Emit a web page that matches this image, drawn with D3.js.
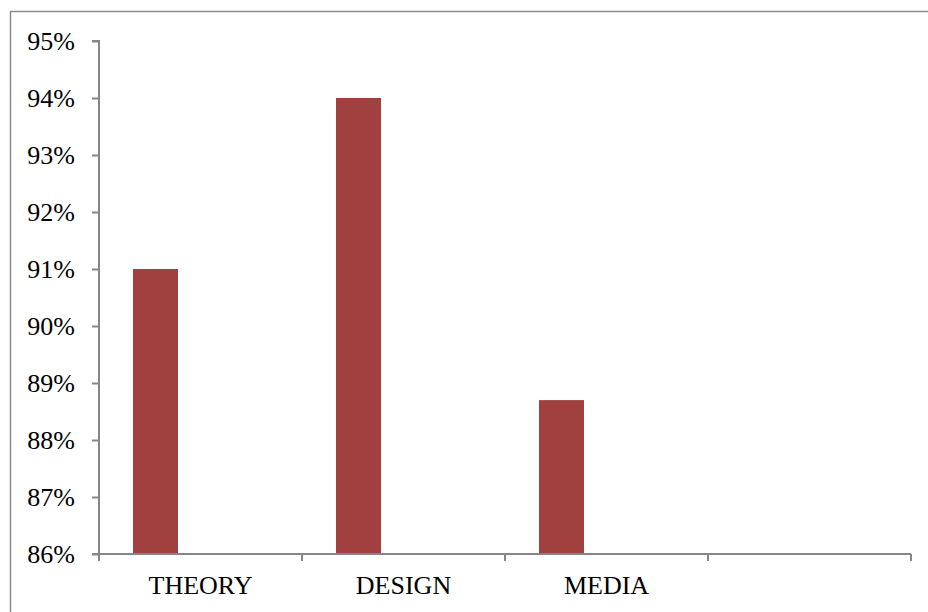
<!DOCTYPE html>
<html>
<head>
<meta charset="utf-8">
<script src="https://cdn.jsdelivr.net/npm/d3@7"></script>
<style>
  body { margin: 0; background: #fff; }
  svg { display: block; }
</style>
</head>
<body>
<svg id="chart"></svg>
<script>
// chart values
var categories = ['THEORY', 'DESIGN', 'MEDIA', ''];
var seriesNames = ['s1', 's2', 's3']; // only the first series carries values
var values = [0.91, 0.94, 0.887, null];
var yTicks = [0.86, 0.87, 0.88, 0.89, 0.90, 0.91, 0.92, 0.93, 0.94, 0.95];

var width = 928;
var height = 612;
var margin = { top: 41, right: 17, bottom: 58, left: 99 };
var innerW = width - margin.left - margin.right;
var innerH = height - margin.top - margin.bottom;
var font = '"Liberation Serif", "Times New Roman", serif';

var svg = d3.select('#chart')
    .attr('width', width)
    .attr('height', height);

// outer frame (runs past the right and bottom edges)
svg.append('rect')
    .attr('x', 10.5)
    .attr('y', 11.5)
    .attr('width', width + 20)
    .attr('height', height + 20)
    .attr('fill', 'none')
    .attr('stroke', '#8c8c8c')
    .attr('stroke-width', 1.5);

var g = svg.append('g')
    .attr('transform', 'translate(' + margin.left + ',' + margin.top + ')');

var x = d3.scaleBand()
    .domain(categories.map(function (d, i) { return i; }))
    .range([0, innerW]);

var xs = d3.scaleBand()
    .domain(seriesNames)
    .range([0, x.bandwidth()])
    .paddingOuter(0.756);

var y = d3.scaleLinear()
    .domain([0.86, 0.95])
    .range([innerH, 0]);

// bars
g.selectAll('rect.bar')
    .data(values.map(function (v, i) { return { i: i, v: v }; }).filter(function (d) { return d.v != null; }))
    .enter()
    .append('rect')
    .attr('class', 'bar')
    .attr('x', function (d) { return x(d.i) + xs('s1'); })
    .attr('width', xs.bandwidth())
    .attr('y', function (d) { return y(d.v); })
    .attr('height', function (d) { return innerH - y(d.v); })
    .attr('fill', '#a0413f');

// y axis
var yAxis = d3.axisLeft(y)
    .tickValues(yTicks)
    .tickSize(7)
    .tickPadding(17)
    .tickFormat(d3.format('.0%'));

var yg = g.append('g').call(yAxis);
yg.select('.domain').attr('stroke', '#868686').attr('stroke-width', 2)
    .attr('d', 'M-7,0H0V' + innerH + 'H-7');
yg.selectAll('.tick line').attr('stroke', '#868686').attr('stroke-width', 2);
yg.selectAll('.tick text')
    .attr('fill', '#000')
    .style('font-family', font)
    .style('font-size', '26px');

// x axis with ticks at category boundaries
var xg = g.append('g').attr('transform', 'translate(0,' + innerH + ')');
xg.append('path')
    .attr('d', 'M0,0H' + innerW)
    .attr('stroke', '#868686')
    .attr('stroke-width', 2)
    .attr('fill', 'none');
var bounds = categories.map(function (d, i) { return x(i); }).concat([innerW]);
xg.selectAll('line.bt')
    .data(bounds)
    .enter()
    .append('line')
    .attr('class', 'bt')
    .attr('x1', function (d) { return d; })
    .attr('x2', function (d) { return d; })
    .attr('y1', 0)
    .attr('y2', 7)
    .attr('stroke', '#868686')
    .attr('stroke-width', 2);
xg.selectAll('text.cat')
    .data(categories.map(function (c, i) { return { c: c, i: i }; }))
    .enter()
    .append('text')
    .attr('class', 'cat')
    .attr('x', function (d) { return x(d.i) + x.bandwidth() / 2; })
    .attr('y', 40)
    .attr('text-anchor', 'middle')
    .attr('fill', '#000')
    .style('font-family', font)
    .style('font-size', '26px')
    .text(function (d) { return d.c; });
</script>
</body>
</html>
